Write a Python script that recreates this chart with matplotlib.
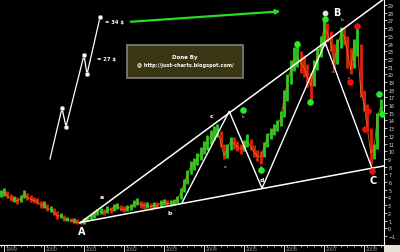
import numpy as np
import pandas as pd
import matplotlib
matplotlib.use("Agg")
from matplotlib import pyplot as plt
from matplotlib.patches import Rectangle

# monthly prices, Dec 1998 .. Jun 2008
close = [4.5,
         4.7, 4.3, 3.8, 3.8, 3.5, 3.9, 4.5, 4.0, 3.8, 3.6, 3.5, 3.0,
         3.1, 2.5, 2.5, 2.0, 1.6, 1.6, 1.2, 1.2, 1.0, 1.0, 0.8, 0.7,
         1.0, 1.2, 1.4, 1.8, 2.1, 2.2, 2.0, 2.5, 2.4, 2.8, 2.9, 2.5,
         2.4, 2.6, 2.8, 3.3, 3.4, 3.1, 2.9, 3.0, 2.8, 3.0, 2.9, 3.3,
         3.4, 3.2, 3.3, 3.4, 3.7, 4.6, 5.8, 7.0, 8.0, 8.4, 9.0, 9.7,
         10.5, 11.3, 11.9, 12.5, 12.9, 11.2, 9.4, 10.4, 11.3, 11.0, 10.6, 10.3,
         10.8, 11.4, 10.6, 9.9, 9.4, 9.3, 10.6, 11.8, 12.4, 12.9, 13.4, 14.3,
         16.8, 18.9, 20.6, 22.0, 22.3, 21.5, 20.9, 19.7, 18.5, 20.7, 22.3, 23.7,
         26.0, 25.4, 24.0, 21.5, 23.6, 25.2, 25.0, 23.0, 20.6, 23.9, 24.0, 17.8,
         16.1, 13.0, 9.8, 10.3, 14.5, 15.8]
high = [5.0,
        5.2, 4.9, 4.4, 4.2, 4.0, 4.3, 5.0, 4.6, 4.3, 4.1, 3.9, 3.6,
        3.5, 3.1, 2.9, 2.6, 2.2, 2.0, 1.7, 1.5, 1.4, 1.3, 1.2, 1.0,
        1.3, 1.5, 1.8, 2.2, 2.5, 2.6, 2.5, 2.9, 2.8, 3.2, 3.3, 3.0,
        2.9, 3.0, 3.2, 3.7, 3.9, 3.6, 3.4, 3.4, 3.3, 3.4, 3.4, 3.7,
        3.8, 3.7, 3.7, 3.8, 4.2, 5.2, 6.4, 7.6, 8.8, 9.1, 9.8, 10.5,
        11.4, 12.1, 12.8, 13.3, 13.6, 12.6, 11.0, 11.0, 11.9, 11.8, 11.3, 11.0,
        11.5, 12.2, 11.6, 10.8, 10.2, 10.0, 11.2, 12.4, 13.0, 13.5, 14.1, 15.2,
        18.0, 20.0, 21.8, 23.5, 24.3, 23.0, 22.5, 21.4, 20.2, 21.9, 23.4, 25.0,
        26.9, 26.6, 25.6, 24.0, 24.6, 26.2, 26.0, 25.0, 23.4, 24.6, 26.2, 24.0,
        18.0, 16.2, 13.0, 11.0, 15.0, 16.8]
low = [4.0,
       4.2, 3.9, 3.5, 3.4, 3.2, 3.4, 3.9, 3.7, 3.4, 3.3, 3.1, 2.7,
       2.7, 2.2, 2.1, 1.7, 1.2, 1.3, 0.9, 0.9, 0.8, 0.7, 0.6, 0.5,
       0.6, 0.9, 1.1, 1.4, 1.7, 1.9, 1.7, 2.0, 2.0, 2.3, 2.5, 2.2,
       2.1, 2.2, 2.4, 2.8, 3.0, 2.7, 2.5, 2.6, 2.4, 2.6, 2.6, 2.8,
       3.0, 2.9, 2.9, 3.0, 3.3, 3.8, 4.7, 5.8, 7.0, 7.6, 8.2, 8.9,
       9.6, 10.2, 11.0, 11.5, 11.8, 10.6, 9.0, 9.1, 10.2, 10.3, 10.0, 9.6,
       10.0, 10.6, 10.2, 9.3, 8.8, 8.4, 9.3, 10.6, 11.6, 12.1, 12.6, 13.3,
       14.5, 16.5, 18.7, 20.4, 21.0, 20.2, 19.6, 18.4, 16.3, 18.5, 20.6, 22.2,
       23.7, 24.2, 23.0, 20.5, 21.4, 23.4, 23.8, 20.8, 20.0, 20.8, 22.4, 17.0,
       15.2, 12.6, 8.4, 9.0, 10.3, 14.8]

years = list(range(1999, 2009))

# trend lines and wave count (decimal year, price)
upper_t, upper_v = [2000.9, 2008.5], [0.7, 29.8]
lower_t, lower_v = [2000.9, 2008.5], [0.75, 8.1]
zig_t = [2003.45, 2004.63, 2005.45, 2007.03, 2008.2]
zig_v = [3.3, 15.2, 5.2, 24.1, 7.8]
proj_t = [2000.15, 2000.45, 2000.55, 2001.0, 2001.075, 2001.4]
proj_v = [9.0, 15.6, 13.2, 22.5, 20.0, 27.4]

green_t = [2004.975, 2005.425, 2006.325, 2006.65, 2007.025, 2008.375, 2008.45]
green_v = [15.4, 7.6, 23.9, 16.4, 27.2, 17.4, 14.8]
red_t = [2007.65, 2007.825, 2008.1, 2008.025, 2008.2]
red_v = [19.0, 26.3, 15.2, 12.9, 7.4]

big_labels = [("A", 2000.95, -0.35), ("B", 2007.33, 28.1), ("C", 2008.23, 6.3)]
small_labels = [("a", 2001.45, 4.1), ("b", 2003.15, 2.0), ("c", 2004.2, 14.6),
                ("d", 2005.45, 6.4)]
tiny_labels = [("b", 2007.45, 27.2), ("a", 2007.225, 20.4), ("c", 2007.625, 19.6),
               ("b", 2004.975, 14.6), ("a", 2004.525, 8.1), ("a", 2005.425, 8.1)]

dates = pd.date_range("1998-12-01", periods=len(close), freq="MS")
t = np.array([d.year + (d.month - 1) / 12 for d in dates])
close = np.array(close)
prev = np.concatenate([[close[0]], close[:-1]])
colors = np.where(close >= prev, "#22d022", "#e02010")

fig = plt.figure(figsize=(4, 2.53), dpi=100, facecolor="black")
ax = fig.add_axes([0, 7 / 253, 384 / 400, 246 / 253])
ax.set_facecolor("black")

ax.vlines(t, low, high, colors=colors, linewidth=2.0)
ax.plot(t, close, color="#c88a1c", lw=0.6, alpha=0.9)

ax.plot(upper_t, upper_v, color="white", lw=1.1)
ax.plot(lower_t, lower_v, color="white", lw=1.1)
ax.plot(zig_t, zig_v, color="white", lw=1.0)
ax.plot(proj_t, proj_v, color="white", lw=0.9)
ax.scatter(proj_t[1:], proj_v[1:], s=10, facecolor="white", edgecolor="#888888", lw=0.5, zorder=5)

ax.scatter(green_t, green_v, s=14, color="#22ee22", zorder=5)
ax.scatter(red_t, red_v, s=14, color="#ee1111", zorder=5)
ax.scatter([2007.025], [27.96], s=10, color="#dddddd", zorder=5)

ax.text(2001.33, 22.1, "= 27 $", color="white", fontsize=3.8, fontweight="bold", va="center")
ax.text(2001.53, 26.8, "= 34 $", color="white", fontsize=3.8, fontweight="bold", va="center")

ax.annotate("", xy=(2005.98, 28.2), xytext=(2002.1, 26.8),
            arrowprops=dict(arrowstyle="-|>", color="#22dd22", lw=1.6, mutation_scale=6))

for s, x, y in big_labels:
    ax.text(x, y, s, color="white", fontsize=7, fontweight="bold", ha="center", va="center")
for s, x, y in small_labels:
    ax.text(x, y, s, color="white", fontsize=4.5, fontweight="bold", ha="center", va="center")
for s, x, y in tiny_labels:
    ax.text(x, y, s, color="#dddddd", fontsize=3.2, ha="center", va="center")

box = Rectangle((127 / 384, (246 - 79) / 246), 116 / 384, 33 / 246, transform=ax.transAxes,
                facecolor="#3a3512", edgecolor="#808080", lw=1.2, zorder=6)
ax.add_patch(box)
ax.text(185 / 384, (246 - 58) / 246, "Done By", transform=ax.transAxes, color="white",
        fontsize=4, fontweight="bold", ha="center", va="center", zorder=7)
ax.text(185 / 384, (246 - 65) / 246, "@ http://just-charts.blogspot.com/", transform=ax.transAxes,
        color="white", fontsize=3.6, fontweight="bold", ha="center", va="center", zorder=7)

ax.set_xlim(1998.9, 2008.5)
ax.set_ylim(-2.17, 29.78)

ax.yaxis.tick_right()
ax.set_yticks(range(-1, 30))
ax.tick_params(axis="y", colors="white", labelcolor="#dddddd", labelsize=3.4, length=2, width=0.5, pad=1)
ax.set_xticks(years)
ax.set_xticks(np.arange(1998 + 11 / 12, 2008.5, 1 / 6), minor=True)
ax.set_xticklabels([])
ax.tick_params(axis="x", which="major", colors="white", length=7, width=0.6)
ax.tick_params(axis="x", which="minor", colors="white", length=1.5, width=0.5)
for y in years:
    ax.text(y + 0.03, -0.016, str(y), transform=ax.get_xaxis_transform(), color="#999999",
            fontsize=3.4, ha="left", va="center", clip_on=False)

for side in ["left", "top"]:
    ax.spines[side].set_visible(False)
ax.spines["right"].set_color("white")
ax.spines["bottom"].set_color("white")
ax.spines["right"].set_linewidth(0.8)
ax.spines["bottom"].set_linewidth(0.8)

fig.patches.append(Rectangle((384 / 400, 0), 16 / 400, 7 / 253, transform=fig.transFigure,
                             facecolor="#e6e2d6", edgecolor="none"))

plt.savefig("out.png", dpi=100, facecolor="black")
plt.close()
